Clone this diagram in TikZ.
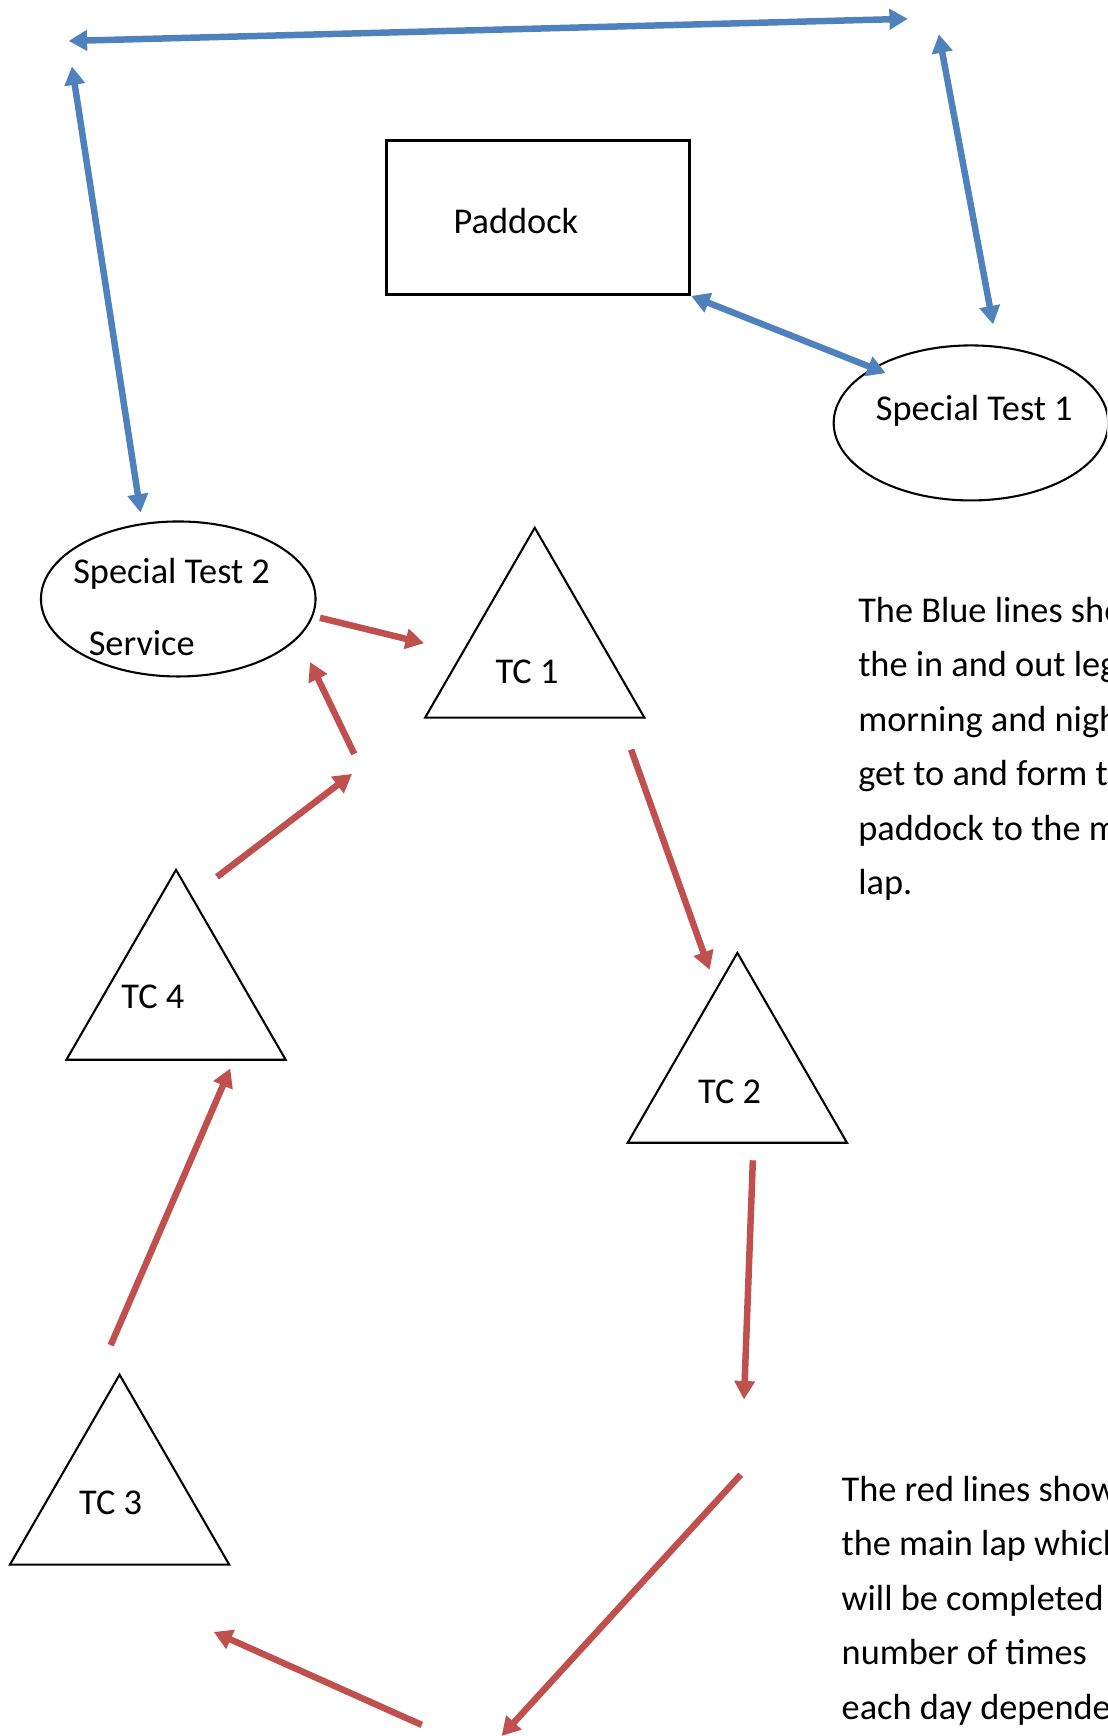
\documentclass[tikz,border=0pt]{standalone}
\usepackage{fontspec}
\setmainfont{Carlito}
\usetikzlibrary{arrows.meta,shapes.geometric}

\definecolor{legblue}{RGB}{79,129,189}
\definecolor{lapred}{RGB}{192,80,77}

\tikzset{
    leg/.style={draw=legblue, line width=5pt, {Triangle[length=0.5cm, width=0.54cm]}-{Triangle[length=0.5cm, width=0.54cm]}},
    lap/.style={draw=lapred, line width=5pt, -{Triangle[length=0.5cm, width=0.54cm]}},
    control/.style={regular polygon, regular polygon sides=3, draw, line width=1.6pt, minimum size=6.86cm, inner sep=0pt},
    stage/.style={ellipse, draw, line width=1.6pt, minimum width=7.44cm, minimum height=4.2cm, inner sep=0pt},
    txt/.style={font=\fontsize{28}{42}\selectfont, inner sep=0pt}
}

\begin{document}
\begin{tikzpicture}[x=0.03cm, y=-0.03cm]
    \clip (0, 0) rectangle (1000, 1568);

    % paddock and special tests
    \node[draw, line width=2.2pt, minimum width=8.22cm, minimum height=4.17cm, inner sep=0pt] (paddock) at (486, 196.5) {};
    \node[txt] (paddocktxt) at (466, 200) {Paddock};

    \node[stage] (st1) at (877, 382) {};
    \node[txt] (st1txt) at (880, 371) {Special Test 1};

    \node[stage] (st2) at (161, 541) {};
    \node[txt] (st2txt) at (155, 518) {Special Test 2};
    \node[txt] (st2svc) at (128, 581) {Service};

    % time controls
    \node[control] (tc1) at (483, 591) {};
    \node[txt] (tc1txt) at (476, 607) {TC 1};
    \node[control] (tc2) at (666, 975) {};
    \node[txt] (tc2txt) at (659, 986) {TC 2};
    \node[control] (tc3) at (108, 1356) {};
    \node[txt] (tc3txt) at (100, 1357) {TC 3};
    \node[control] (tc4) at (159, 900) {};
    \node[txt] (tc4txt) at (138, 900) {TC 4};

    % blue legs
    \coordinate (topL) at (62, 37);
    \coordinate (topR) at (820, 17);
    \coordinate (leftT) at (65, 60);
    \coordinate (leftB) at (127, 463);
    \coordinate (rightT) at (848, 31);
    \coordinate (rightB) at (897, 293);
    \coordinate (padEnd) at (800, 337);

    \draw[leg] (topL) -- (topR);
    \draw[leg] (leftT) -- (leftB);
    \draw[leg] (rightT) -- (rightB);
    \draw[leg] (paddock.south east) -- (padEnd);

    % red lap
    \coordinate (lapA1) at (289, 558);  \coordinate (lapA2) at (383, 581);
    \coordinate (lapB1) at (570, 677);  \coordinate (lapB2) at (641, 876);
    \coordinate (lapC1) at (680, 1048); \coordinate (lapC2) at (672, 1264);
    \coordinate (lapD1) at (669, 1332); \coordinate (lapD2) at (453, 1568);
    \coordinate (lapE1) at (381, 1558); \coordinate (lapE2) at (193, 1474);
    \coordinate (lapF1) at (100, 1215); \coordinate (lapF2) at (208, 965);
    \coordinate (lapG1) at (196, 792);  \coordinate (lapG2) at (318, 699);
    \coordinate (lapH1) at (320, 681);  \coordinate (lapH2) at (280, 598);

    \foreach \k in {A, B, C, D, E, F, G, H}
        \draw[lap] (lap\k1) -- (lap\k2);

    % notes
    \foreach \line [count=\i from 0] in {The Blue lines show, the in and out legs, morning and night, get to and form the, paddock to the main, lap.}
        \node[txt, anchor=base west] (bluenote\i) at (775, {562+49.2*\i}) {\line};

    \foreach \line [count=\i from 0] in {The red lines show, the main lap which, will be completed, number of times, each day dependent}
        \node[txt, anchor=base west] (rednote\i) at (760, {1356+49.2*\i}) {\line};
\end{tikzpicture}
\end{document}
